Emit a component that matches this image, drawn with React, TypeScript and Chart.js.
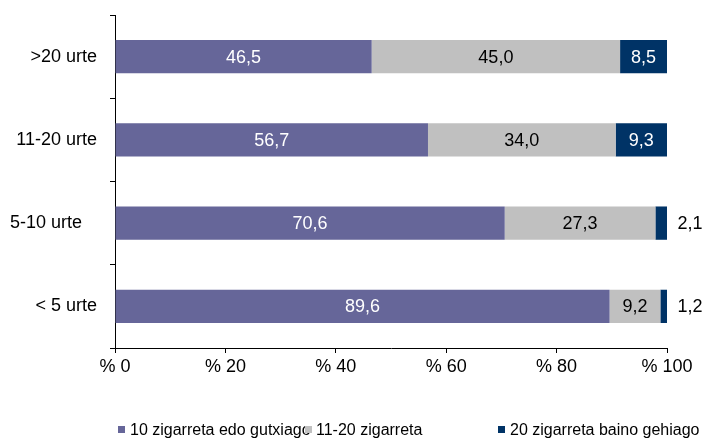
import React, { useEffect, useRef } from "react";
import { Chart, registerables } from "chart.js";

Chart.register(...registerables);

const categories = [">20 urte", "11-20 urte", "5-10 urte   ", "< 5 urte"];
const seriesNames = ["10 zigarreta edo gutxiago", "11-20 zigarreta", "20 zigarreta baino gehiago"];
const lowValues = [46.5, 56.7, 70.6, 89.6];
const midValues = [45.0, 34.0, 27.3, 9.2];
const highValues = [8.5, 9.3, 2.1, 1.2];
const seriesColors = ["#666699", "#C0C0C0", "#003366"];
const labelColors = ["#FFFFFF", "#000000", "#FFFFFF"];
const xTicks = [0, 20, 40, 60, 80, 100];

const FONT = "'Liberation Sans', Arial, sans-serif";

const fmt = (v: number) => v.toFixed(1).replace(".", ",");

const labelPlugin = {
  id: "segLabels",
  afterDatasetsDraw(chart: any) {
    const ctx = chart.ctx;
    ctx.save();
    ctx.font = `18px ${FONT}`;
    ctx.textBaseline = "middle";
    ctx.textAlign = "center";
    chart.data.datasets.forEach((ds: any, di: number) => {
      const meta = chart.getDatasetMeta(di);
      meta.data.forEach((el: any, i: number) => {
        const v = ds.data[i];
        const w = Math.abs(el.x - el.base);
        let x = (el.x + el.base) / 2;
        let color = labelColors[di];
        if (w < 25) {
          x = chart.chartArea.right + 23;
          color = "#000000";
        }
        ctx.fillStyle = color;
        ctx.fillText(fmt(v), x, el.y + 1);
      });
    });
    ctx.restore();
  },
};

export default function App() {
  const ref = useRef<HTMLCanvasElement>(null);
  useEffect(() => {
    if (!ref.current) return;
    const data = [lowValues, midValues, highValues];
    const chart = new Chart(ref.current, {
      type: "bar",
      data: {
        labels: categories,
        datasets: data.map((d, i) => ({
          label: seriesNames[i],
          data: d,
          backgroundColor: seriesColors[i],
          borderWidth: 0,
          barPercentage: 0.4,
          categoryPercentage: 1,
        })),
      },
      options: {
        indexAxis: "y",
        animation: false,
        responsive: false,
        maintainAspectRatio: false,
        layout: { padding: { top: 15, right: 40, bottom: 51, left: 0 } },
        plugins: { legend: { display: false }, tooltip: { enabled: false } },
        scales: {
          x: {
            stacked: true,
            min: 0,
            max: 100,
            afterBuildTicks: (scale: any) => {
              scale.ticks = xTicks.map((v) => ({ value: v }));
            },
            afterFit: (scale: any) => {
              scale.height = 40;
            },
            grid: {
              drawOnChartArea: false,
              drawTicks: true,
              tickLength: 5,
              color: "#000000",
              lineWidth: 1,
            },
            border: { display: true, color: "#000000", width: 1 },
            ticks: {
              color: "#000000",
              font: { family: FONT, size: 18 },
              padding: 3,
              maxRotation: 0,
              callback: (v: any) => "% " + v,
            },
          },
          y: {
            stacked: true,
            afterFit: (scale: any) => {
              scale.width = 115;
              scale.paddingTop = 0;
              scale.paddingBottom = 0;
            },
            grid: {
              offset: true,
              drawOnChartArea: false,
              drawTicks: true,
              tickLength: 5,
              color: "#000000",
              lineWidth: 1,
            },
            border: { display: true, color: "#000000", width: 1 },
            ticks: {
              color: "#000000",
              font: { family: FONT, size: 18 },
              padding: 13,
            },
          },
        },
      },
      plugins: [labelPlugin],
    } as any);
    return () => chart.destroy();
  }, []);

  const legendItems = [
    { sq: 118, tx: 130, text: seriesNames[0], color: seriesColors[0] },
    { sq: 305, tx: 316, text: seriesNames[1], color: seriesColors[1] },
    { sq: 498, tx: 510, text: seriesNames[2], color: seriesColors[2] },
  ];

  return (
    <div style={{ position: "fixed", left: 0, top: 0, width: 707, height: 439, background: "#fff" }}>
      <canvas ref={ref} width={707} height={439} style={{ display: "block" }} />
      {legendItems.map((it, i) => (
        <React.Fragment key={i}>
          <span
            style={{
              position: "absolute",
              left: it.tx,
              top: 420,
              lineHeight: "20px",
              fontFamily: FONT,
              fontSize: 16,
              color: "#000",
              whiteSpace: "nowrap",
            }}
          >
            {it.text}
          </span>
          <span
            style={{
              position: "absolute",
              left: it.sq,
              top: 426,
              width: 7,
              height: 7,
              background: it.color,
            }}
          />
        </React.Fragment>
      ))}
    </div>
  );
}
